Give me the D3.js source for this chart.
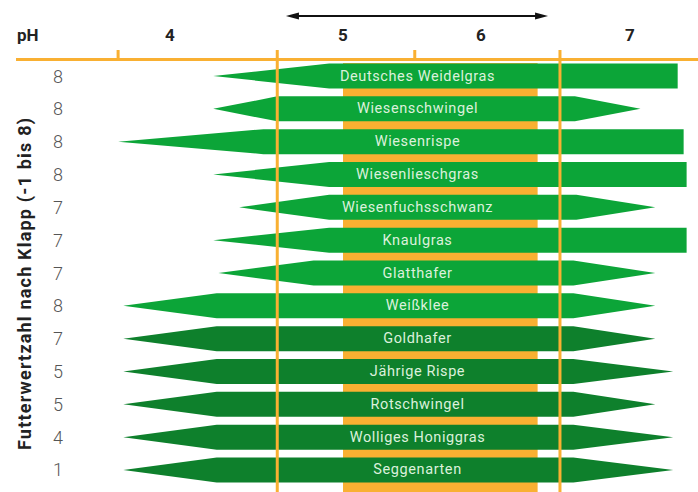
<!DOCTYPE html>
<meta charset="utf-8">
<script src="https://d3js.org/d3.v7.min.js"></script>
<div id="my_dataviz"></div>
<style>
body { margin: 0; background: #fff; }
text { font-family: Roboto, "DejaVu Sans", sans-serif; }
</style>
<script>
// pH scale labels on top
var phLabels = [4, 5, 6, 7]
var phTicks = [3.70, 5.52]        // small ticks on the pH line
var phLines = [4.62, 6.53]        // long vertical orange lines
var optimumRange = [5.0, 6.38]    // orange band behind the bars
var arrowRange = [4.67, 6.45]

var species = ["Deutsches Weidelgras", "Wiesenschwingel", "Wiesenrispe", "Wiesenlieschgras",
  "Wiesenfuchsschwanz", "Knaulgras", "Glatthafer", "Weißklee", "Goldhafer", "Jährige Rispe",
  "Rotschwingel", "Wolliges Honiggras", "Seggenarten"]
var futterwert = [8, 8, 8, 8, 7, 7, 7, 8, 7, 5, 5, 4, 1]
var leftTip   = [4.25, 4.25, 3.70, 4.25, 4.40, 4.25, 4.28, 3.73, 3.73, 3.73, 3.73, 3.73, 3.73]
var leftFull  = [4.92, 4.62, 4.54, 4.92, 4.92, 4.92, 4.83, 4.27, 4.27, 4.27, 4.27, 4.27, 4.27]
var rightFull = [7.32, 6.63, 7.36, 7.38, 6.64, 7.38, 6.62, 6.62, 6.62, 6.62, 6.62, 6.62, 6.62]
var rightTip  = [7.32, 7.07, 7.36, 7.38, 7.17, 7.38, 7.17, 7.17, 7.17, 7.29, 7.17, 7.29, 7.29]
var gruppe = ["a", "a", "a", "a", "a", "a", "a", "a", "b", "b", "b", "b", "b"]

var width = 698, height = 492
var orange = "#f9b032"

var svg = d3.select("#my_dataviz")
  .append("svg")
    .attr("width", width)
    .attr("height", height)

var x = d3.scaleLinear()
  .domain([4, 5, 6, 7])
  .range([170, 343, 481, 630])

var y = d3.scaleBand()
  .domain(species)
  .range([59.6, 486.4])
  .paddingInner(0.24)
  .paddingOuter(0.12)

var color = d3.scaleOrdinal()
  .domain(["a", "b"])
  .range(["#0ca538", "#0e802c"])

var rows = species.map(function(s, i) {
  return { name: s, wert: futterwert[i], l0: leftTip[i], l1: leftFull[i],
           r1: rightFull[i], r0: rightTip[i], g: gruppe[i] }
})

// optimum band
svg.append("rect")
  .attr("x", x(optimumRange[0]))
  .attr("width", x(optimumRange[1]) - x(optimumRange[0]))
  .attr("y", 63)
  .attr("height", height - 63)
  .style("fill", orange)

// bars
var line = d3.line()
var bh = y.bandwidth()
svg.append("g")
  .selectAll("path")
  .data(rows)
  .join("path")
    .attr("d", function(d) {
      var t = y(d.name), m = t + bh / 2, b = t + bh
      return line([[x(d.l0), m], [x(d.l1), t], [x(d.r1), t], [x(d.r0), m],
                   [x(d.r1), b], [x(d.l1), b]]) + "Z"
    })
    .style("fill", function(d) { return color(d.g) })

svg.append("g")
  .selectAll("text")
  .data(rows)
  .join("text")
    .attr("x", x(5.54))
    .attr("y", function(d) { return y(d.name) + bh / 2 })
    .attr("text-anchor", "middle")
    .attr("dominant-baseline", "central")
    .style("font-size", "14.5px")
    .style("fill", "#dcf1dc")
    .style("letter-spacing", "0.6px")
    .text(function(d) { return d.name })

// orange pH line, ticks and vertical lines
svg.append("line")
  .attr("x1", 16).attr("x2", width)
  .attr("y1", 59.5).attr("y2", 59.5)
  .attr("stroke", orange).attr("stroke-width", 3)

svg.selectAll("phtick")
  .data(phTicks)
  .enter()
  .append("line")
    .attr("x1", function(d) { return x(d) })
    .attr("x2", function(d) { return x(d) })
    .attr("y1", 50).attr("y2", 60)
    .attr("stroke", orange).attr("stroke-width", 3)

svg.selectAll("phline")
  .data(phLines)
  .enter()
  .append("line")
    .attr("x1", function(d) { return x(d) })
    .attr("x2", function(d) { return x(d) })
    .attr("y1", 50).attr("y2", height)
    .attr("stroke", orange).attr("stroke-width", 3)

// pH labels
svg.append("text")
  .attr("x", 17).attr("y", 41)
  .style("font-size", "17px").style("font-weight", "bold").style("fill", "#222")
  .text("pH")

svg.selectAll("phlabel")
  .data(phLabels)
  .enter()
  .append("text")
    .attr("x", function(d) { return x(d) })
    .attr("y", 41)
    .attr("text-anchor", "middle")
    .style("font-size", "17px").style("font-weight", "bold").style("fill", "#222")
    .text(function(d) { return d })

// double arrow
var ay = 16, ax0 = x(arrowRange[0]), ax1 = x(arrowRange[1])
svg.append("line")
  .attr("x1", ax0 + 8).attr("x2", ax1 - 8)
  .attr("y1", ay).attr("y2", ay)
  .attr("stroke", "#111").attr("stroke-width", 2)
svg.append("path")
  .attr("d", "M" + ax0 + "," + ay + "L" + (ax0 + 13) + "," + (ay - 3.5) + "L" + (ax0 + 13) + "," + (ay + 3.5) + "Z")
  .style("fill", "#111")
svg.append("path")
  .attr("d", "M" + ax1 + "," + ay + "L" + (ax1 - 13) + "," + (ay - 3.5) + "L" + (ax1 - 13) + "," + (ay + 3.5) + "Z")
  .style("fill", "#111")

// Futterwertzahl column
svg.append("g")
  .selectAll("text")
  .data(rows)
  .join("text")
    .attr("x", 58)
    .attr("y", function(d) { return y(d.name) + bh / 2 })
    .attr("text-anchor", "middle")
    .attr("dominant-baseline", "central")
    .style("font-size", "18px")
    .style("font-weight", 300)
    .style("fill", "#555")
    .text(function(d) { return d.wert })

svg.append("text")
  .attr("transform", "translate(31,284) rotate(-90)")
  .attr("text-anchor", "middle")
  .attr("textLength", 332)
  .attr("lengthAdjust", "spacing")
  .style("font-size", "18px").style("font-weight", "bold").style("fill", "#222")
  .text("Futterwertzahl nach Klapp (-1 bis 8)")
</script>
